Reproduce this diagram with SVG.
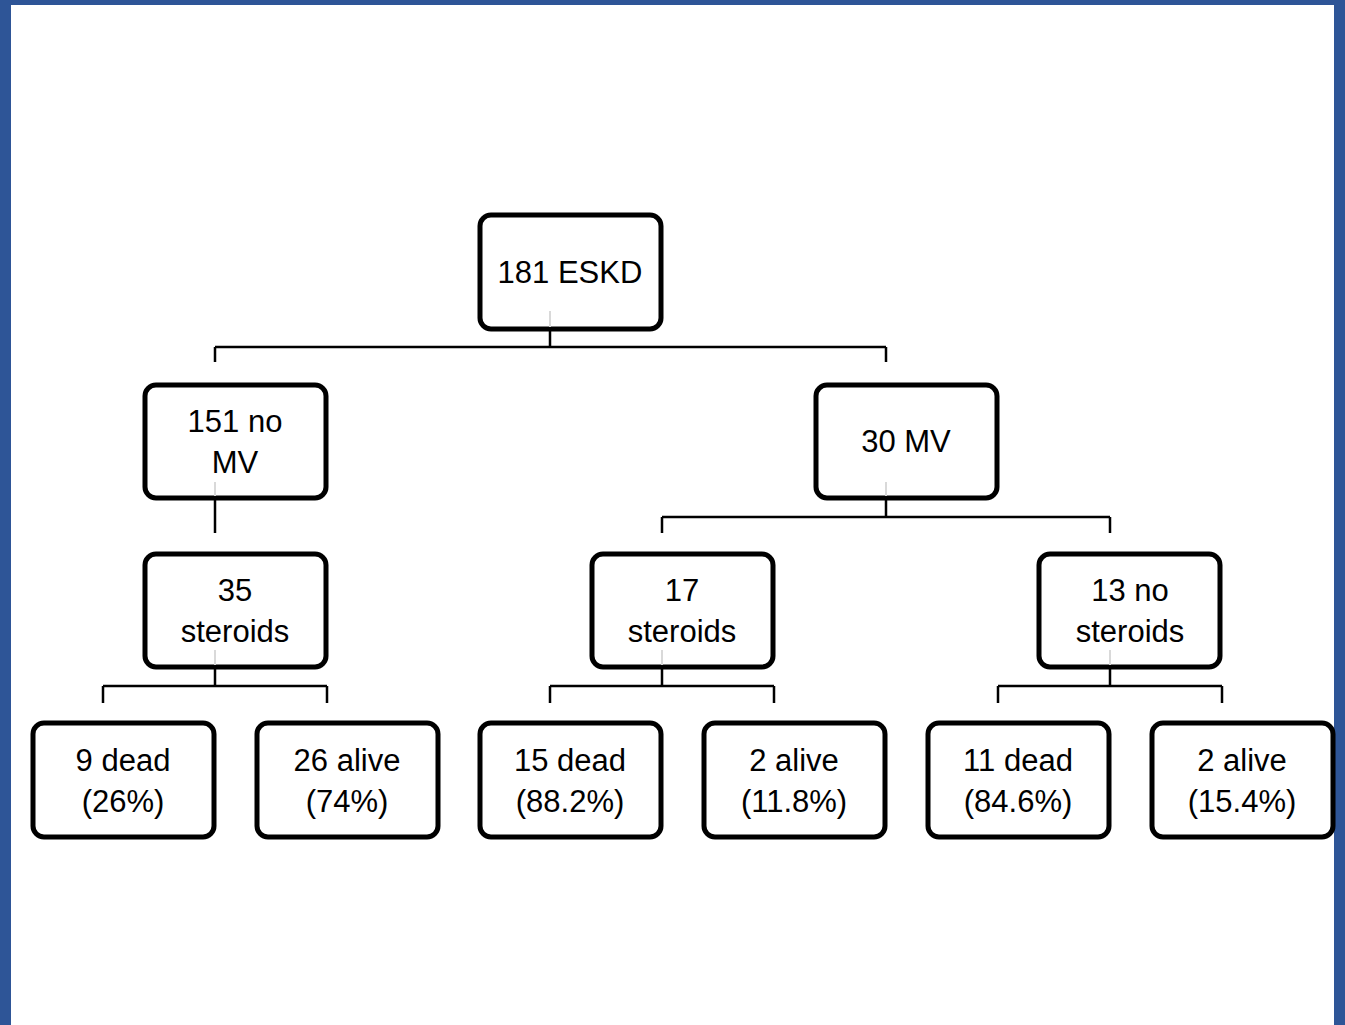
<svg xmlns="http://www.w3.org/2000/svg" width="1345" height="1025" viewBox="0 0 1345 1025">
<style>
.box{fill:#fff;stroke:#000;stroke-width:5}
.t{font-family:"Liberation Sans",Arial,sans-serif;font-size:31px;fill:#000;text-anchor:middle}
.c{fill:none;stroke:#000;stroke-width:2.5}
.g{stroke:#d9d9d9;stroke-width:2}
</style>
<rect x="0" y="0" width="1345" height="1025" fill="#fff"/>
<rect x="0" y="0" width="11" height="1025" fill="#2E5597"/>
<rect x="0" y="0" width="1345" height="5" fill="#2E5597"/>
<rect x="1334" y="0" width="11" height="1025" fill="#2E5597"/>
<g id="connectors">
<path class="c" d="M550 331V347M215 347H886M215 347V362M886 347V362"/>
<path class="c" d="M215 500V533"/>
<path class="c" d="M886 500V517M662 517H1110M662 517V533M1110 517V533"/>
<path class="c" d="M215 669V686M103 686H327M103 686V703M327 686V703"/>
<path class="c" d="M662 669V686M550 686H774M550 686V703M774 686V703"/>
<path class="c" d="M1110 669V686M998 686H1222M998 686V703M1222 686V703"/>
</g>
<g id="n181"><rect class="box" x="480" y="215" width="181" height="114" rx="11"/><text class="t" x="570" y="283">181 ESKD</text><line class="g" x1="550" y1="311" x2="550" y2="327"/></g>
<g id="n151"><rect class="box" x="145" y="385" width="181" height="113" rx="11"/><text class="t" x="235" y="432">151 no</text><text class="t" x="235" y="473">MV</text><line class="g" x1="215" y1="482" x2="215" y2="496"/></g>
<g id="n30"><rect class="box" x="816" y="385" width="181" height="113" rx="11"/><text class="t" x="906" y="452">30 MV</text><line class="g" x1="886" y1="482" x2="886" y2="496"/></g>
<g id="n35"><rect class="box" x="145" y="554" width="181" height="113" rx="11"/><text class="t" x="235" y="601">35</text><text class="t" x="235" y="642">steroids</text><line class="g" x1="215" y1="650" x2="215" y2="665"/></g>
<g id="n17"><rect class="box" x="592" y="554" width="181" height="113" rx="11"/><text class="t" x="682" y="601">17</text><text class="t" x="682" y="642">steroids</text><line class="g" x1="662" y1="650" x2="662" y2="665"/></g>
<g id="n13"><rect class="box" x="1039" y="554" width="181" height="113" rx="11"/><text class="t" x="1130" y="601">13 no</text><text class="t" x="1130" y="642">steroids</text><line class="g" x1="1110" y1="650" x2="1110" y2="665"/></g>
<g id="n9dead"><rect class="box" x="33" y="723" width="181" height="114" rx="11"/><text class="t" x="123" y="771">9 dead</text><text class="t" x="123" y="812">(26%)</text></g>
<g id="n26alive"><rect class="box" x="257" y="723" width="181" height="114" rx="11"/><text class="t" x="347" y="771">26 alive</text><text class="t" x="347" y="812">(74%)</text></g>
<g id="n15dead"><rect class="box" x="480" y="723" width="181" height="114" rx="11"/><text class="t" x="570" y="771">15 dead</text><text class="t" x="570" y="812">(88.2%)</text></g>
<g id="n2alive1"><rect class="box" x="704" y="723" width="181" height="114" rx="11"/><text class="t" x="794" y="771">2 alive</text><text class="t" x="794" y="812">(11.8%)</text></g>
<g id="n11dead"><rect class="box" x="928" y="723" width="181" height="114" rx="11"/><text class="t" x="1018" y="771">11 dead</text><text class="t" x="1018" y="812">(84.6%)</text></g>
<g id="n2alive2"><rect class="box" x="1152" y="723" width="181" height="114" rx="11"/><text class="t" x="1242" y="771">2 alive</text><text class="t" x="1242" y="812">(15.4%)</text></g>
</svg>
